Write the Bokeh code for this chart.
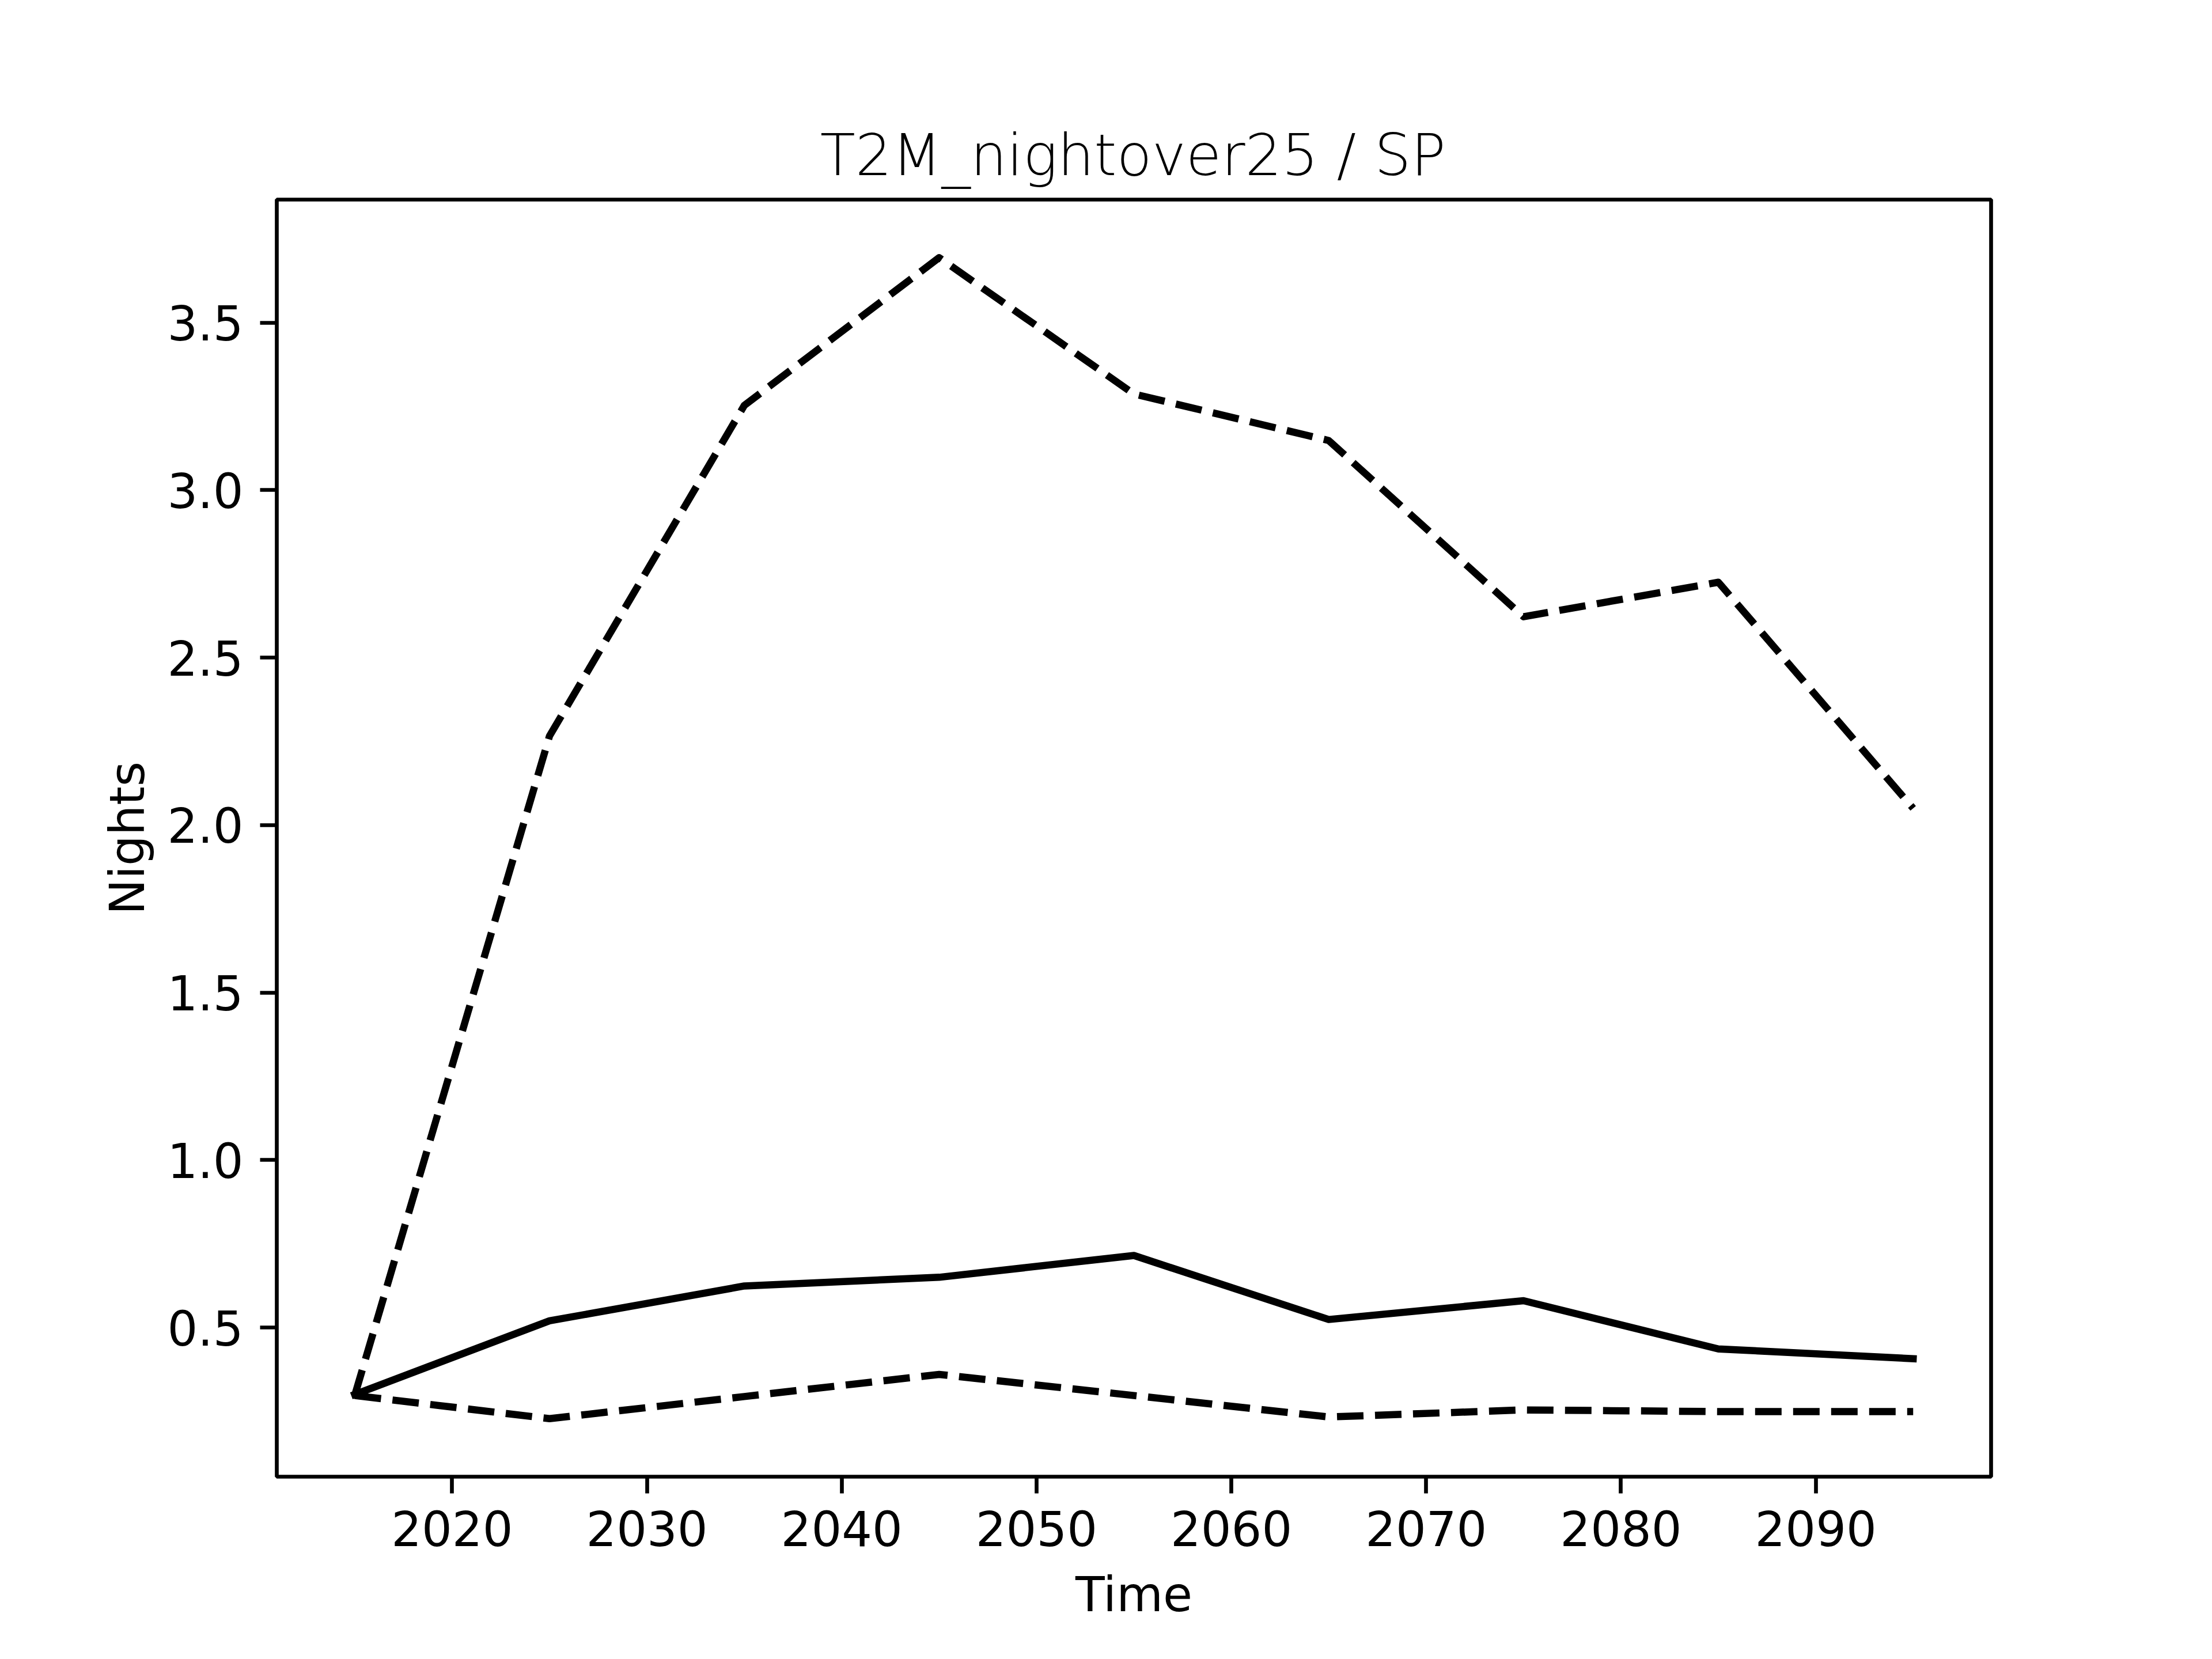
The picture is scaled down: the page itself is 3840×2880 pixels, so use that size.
from bokeh.plotting import figure
from bokeh.models import Range1d, FixedTicker
from bokeh.embed import file_html
from bokeh.resources import INLINE

years = [2015, 2025, 2035, 2045, 2055, 2065, 2075, 2085, 2095]
mean_vals = [0.30, 0.52, 0.624, 0.65, 0.715, 0.524, 0.58, 0.436, 0.407]
low_vals = [0.297, 0.228, 0.294, 0.36, 0.297, 0.233, 0.254, 0.249, 0.249]
high_vals = [0.297, 2.266, 3.253, 3.694, 3.287, 3.148, 2.622, 2.725, 2.05]
x_ticks = [2020, 2030, 2040, 2050, 2060, 2070, 2080, 2090]
y_ticks = [0.5, 1.0, 1.5, 2.0, 2.5, 3.0, 3.5]
title_text = "T2M_nightover25 / SP"
x_label = "Time"
y_label = "Nights"

FONT = "DejaVu Sans"
LW = 12.5
FRAME_LW = 6.67

xmin, xmax = min(years), max(years)
xpad = 0.05 * (xmax - xmin)
allv = mean_vals + low_vals + high_vals
ymin, ymax = min(allv), max(allv)
ypad = 0.05 * (ymax - ymin)

p = figure(
    frame_width=2976, frame_height=2217,
    min_border_left=480, min_border_right=376,
    min_border_top=346, min_border_bottom=309,
    x_range=Range1d(xmin - xpad, xmax + xpad),
    y_range=Range1d(ymin - ypad, ymax + ypad),
    output_backend="svg", toolbar_location=None,
    title=title_text,
)
p.background_fill_color = "white"
p.border_fill_color = "white"
p.grid.visible = False
p.outline_line_color = "black"
p.outline_line_width = FRAME_LW

p.title.text_font = FONT
p.title.text_font_size = "100px"
p.title.text_font_style = "normal"
p.title.align = "center"
p.title.text_color = "black"
p.title.standoff = 38

for ax in (p.xaxis[0], p.yaxis[0]):
    ax.axis_line_color = None
    ax.major_tick_out = 29
    ax.major_tick_in = 0
    ax.major_tick_line_width = FRAME_LW
    ax.major_tick_line_color = "black"
    ax.minor_tick_line_color = None
    ax.major_label_text_font = FONT
    ax.major_label_text_font_size = "83px"
    ax.major_label_text_color = "black"
    ax.major_label_standoff = 29
    ax.axis_label_text_font = FONT
    ax.axis_label_text_font_size = "83px"
    ax.axis_label_text_font_style = "normal"
    ax.axis_label_text_color = "black"
    ax.axis_label_standoff = 33

p.yaxis[0].axis_label_standoff = 18

p.xaxis[0].ticker = FixedTicker(ticks=x_ticks)
p.yaxis[0].ticker = FixedTicker(ticks=y_ticks)
p.xaxis[0].major_label_overrides = {t: str(t) for t in x_ticks}
p.yaxis[0].major_label_overrides = {t: f"{t:.1f}" for t in y_ticks}
p.xaxis[0].axis_label = x_label
p.yaxis[0].axis_label = y_label

p.line(years, mean_vals, line_color="black", line_width=LW, line_join="round", line_cap="square")
p.line(years, low_vals, line_color="black", line_width=LW, line_join="round", line_dash="46 20")
p.line(years, high_vals, line_color="black", line_width=LW, line_join="round", line_dash="46 20")

open("out.html", "w").write(file_html(p, INLINE))
